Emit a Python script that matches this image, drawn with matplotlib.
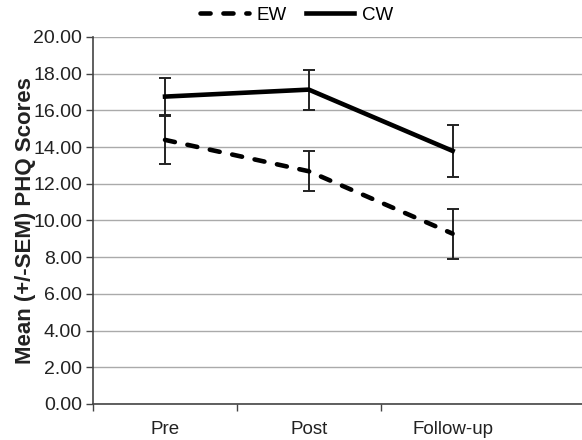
import matplotlib
matplotlib.use("Agg")
import matplotlib.pyplot as plt
import numpy as np

plt.rcParams['font.family'] = ['Liberation Sans', 'DejaVu Sans']

# --- Data -------------------------------------------------------------------
phases = ["Pre", "Post", "Follow-up"]
ew_mean = [14.39, 12.68, 9.28]
ew_sem  = [1.31, 1.10, 1.37]
cw_mean = [16.75, 17.13, 13.79]
cw_sem  = [1.02, 1.09, 1.40]

fig = plt.figure(figsize=(5.82, 4.40), dpi=100)
ax = fig.add_axes([0.160, 0.082, 0.84, 0.834])

x = np.arange(len(phases))
ew = ax.errorbar(x, ew_mean, yerr=ew_sem, color="black", lw=3.3, ls=(0, (2.2, 2.8)),
                 ecolor="#222222", elinewidth=1.4, capsize=4, capthick=1.4, label="EW")
ew[0].set_dash_capstyle("round")
ax.errorbar(x, cw_mean, yerr=cw_sem, color="black", lw=3.3, ls="-",
            ecolor="#222222", elinewidth=1.4, capsize=4, capthick=1.4, label="CW")

ax.set_ylim(0, 20)
ax.set_yticks(np.arange(0, 20.1, 2))
ax.set_yticklabels([f"{v:.2f}" for v in np.arange(0, 20.1, 2)], fontsize=14,
                   color="#222222")
ax.set_xlim(-0.5, 2.9)
ax.set_xticks([-0.5, 0.5, 1.5])
ax.set_xticklabels([])
ax.set_xticks(x, minor=True)
ax.set_xticklabels(phases, minor=True, fontsize=13.5, color="#222222")
ax.tick_params(axis="x", which="minor", length=0, pad=12)
ax.tick_params(axis="x", which="major", length=5, width=1, color="#444444")
ax.tick_params(axis="y", length=5, width=1, color="#444444", pad=3)

ax.grid(axis="y", color="#aaaaaa", lw=1)
ax.set_axisbelow(True)
for s in ["top", "right"]:
    ax.spines[s].set_visible(False)
for s in ["left", "bottom"]:
    ax.spines[s].set_color("#444444")
    ax.spines[s].set_linewidth(1.2)

ax.set_ylabel("Mean (+/-SEM) PHQ Scores", fontsize=16, fontweight="bold",
              color="#222222")
ax.yaxis.set_label_coords(-0.117, 0.5)

handles, labels = ax.get_legend_handles_labels()
handles = [h[0] for h in handles]
fig.legend(handles, labels, loc="center", bbox_to_anchor=(0.51, 0.965), ncol=2,
           frameon=False, fontsize=13.5, handlelength=2.6, columnspacing=1.0,
           handletextpad=0.4)

fig.savefig("out.png", dpi=100)
